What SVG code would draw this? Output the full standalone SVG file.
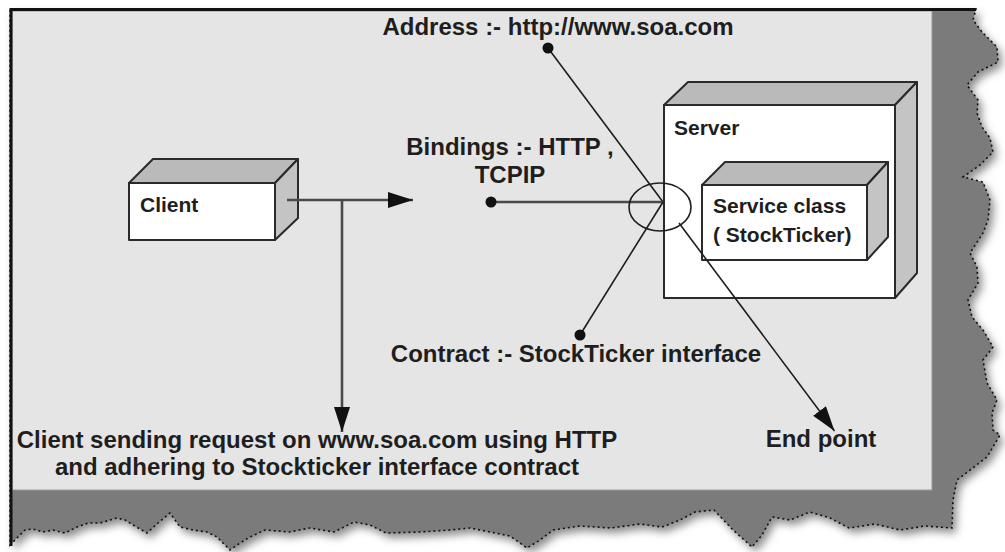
<svg xmlns="http://www.w3.org/2000/svg" width="1005" height="552" viewBox="0 0 1005 552">
  <style>
    .lbl { font-family: "Liberation Sans", Arial, sans-serif; font-weight: bold; fill: #1e1e1e; }
    .node { font-size: 21px; }
    .ann { font-size: 24px; }
    .face { fill: #ffffff; stroke: #2a2a2a; stroke-width: 2; stroke-linejoin: round; }
    .top { fill: #bababa; stroke: #2a2a2a; stroke-width: 2; stroke-linejoin: round; }
    .side { fill: #c4c4c4; stroke: #2a2a2a; stroke-width: 2; stroke-linejoin: round; }
    .thin { stroke: #1e1e1e; stroke-width: 1.6; fill: none; }
    .thick { stroke: #4a4a4a; stroke-width: 2.6; fill: none; }
    .dot { fill: #111; }
  </style>
  <defs>
    <marker id="arrow" markerUnits="userSpaceOnUse" markerWidth="26" markerHeight="18" refX="25" refY="8" orient="auto">
      <path d="M0,0 L25,8 L0,16 Z" fill="#111"/>
    </marker>
    <filter id="blur" x="-10%" y="-10%" width="120%" height="120%">
      <feGaussianBlur stdDeviation="4"/>
    </filter>
    <path id="torn" d="M10,9 L976,9 L973,20 L982,32 L997,47 L998,62 L978,72 L967,85 L978,100 L977,113 L982,127 L990,138 L993,152 L980,165 L963,177 L983,182 L990,200 L988,220 L983,233 L970,253 L977,267 L978,283 L968,300 L972,317 L983,330 L993,347 L983,360 L987,383 L997,400 L992,413 L993,430 L1000,435 L987,457 L970,470 L957,480 L953,500 L952,528 L925,526 L900,530 L875,524 L849,528 L830,518 L810,512 L790,520 L772,517 L762,535 L752,547 L742,538 L733,530 L714,510 L695,512 L680,520 L662,527 L640,524 L611,528 L580,526 L553,530 L540,540 L527,548 L510,536 L495,533 L470,528 L450,530 L420,532 L386,533 L370,525 L354,522 L334,532 L310,528 L289,532 L265,530 L250,537 L240,543 L230,550 L217,537 L207,532 L193,530 L180,527 L170,513 L158,523 L147,533 L133,525 L125,520 L117,518 L110,520 L100,523 L88,523 L77,527 L65,533 L53,530 L43,532 L33,529 L25,530 L10,545 Z"/>
  </defs>

  <rect x="0" y="0" width="1005" height="552" fill="#ffffff"/>

  <!-- torn paper background -->
  <g id="paper">
    <use href="#torn" transform="translate(4,5)" fill="#8c8c8c" filter="url(#blur)"/>
    <use href="#torn" fill="#7b7b7b"/>
    <use href="#torn" fill="none" stroke="#111" stroke-width="1.6" stroke-dasharray="2,3"/>
    <rect x="12" y="11" width="920" height="479" fill="#e5e5e5" stroke="#9a9a9a" stroke-width="1"/>
    <line x1="11" y1="8" x2="11" y2="546" stroke="#111" stroke-width="3"/>
    <line x1="10" y1="9.5" x2="976" y2="9.5" stroke="#111" stroke-width="3"/>
  </g>

  <!-- Client node -->
  <g id="client">
    <polygon class="top" points="129,183 153,159 298,159 275,183"/>
    <polygon class="side" points="275,183 298,159 298,218 275,240"/>
    <rect class="face" x="129" y="183" width="146" height="57"/>
    <text class="lbl node" x="140" y="212">Client</text>
  </g>

  <!-- Server node -->
  <g id="server">
    <polygon class="top" points="664,105 688,82 917,82 895,105"/>
    <polygon class="side" points="895,105 917,82 917,273 895,298"/>
    <rect class="face" x="664" y="105" width="231" height="193"/>
    <text class="lbl node" x="674" y="135">Server</text>
  </g>

  <!-- Service class node -->
  <g id="service">
    <polygon class="top" points="702,185 725,162 888,162 867,185"/>
    <polygon class="side" points="867,185 888,162 888,237 867,260"/>
    <rect class="face" x="702" y="185" width="165" height="75"/>
    <text class="lbl node" x="713" y="213">Service class</text>
    <text class="lbl node" x="713" y="242">( StockTicker)</text>
  </g>

  <!-- Connectors -->
  <g id="connectors">
    <line class="thick" x1="287" y1="200" x2="413" y2="200" marker-end="url(#arrow)"/>
    <line class="thick" x1="342" y1="200" x2="342" y2="432" marker-end="url(#arrow)"/>
    <line class="thin" x1="548" y1="48" x2="663" y2="202"/>
    <line class="thick" x1="491" y1="202" x2="663" y2="202"/>
    <line class="thin" x1="580" y1="335" x2="663" y2="202"/>
    <line class="thin" x1="679" y1="223" x2="834.5" y2="431" marker-end="url(#arrow)"/>
    <ellipse cx="660" cy="207" rx="31" ry="24" fill="none" stroke="#1e1e1e" stroke-width="1.6"/>
    <circle class="dot" cx="548" cy="48" r="5.5"/>
    <circle class="dot" cx="491" cy="202" r="5.5"/>
    <circle class="dot" cx="580" cy="335" r="5.5"/>
  </g>

  <!-- Annotation labels -->
  <g id="labels">
    <text class="lbl ann" x="558" y="35" text-anchor="middle">Address :- http://www.soa.com</text>
    <text class="lbl ann" x="510" y="155" text-anchor="middle">Bindings :- HTTP ,</text>
    <text class="lbl ann" x="510" y="183" text-anchor="middle">TCPIP</text>
    <text class="lbl ann" x="576" y="362" text-anchor="middle">Contract :- StockTicker interface</text>
    <text class="lbl ann" x="821" y="447" text-anchor="middle">End point</text>
    <text class="lbl ann" x="317" y="448" text-anchor="middle">Client sending request on www.soa.com using HTTP</text>
    <text class="lbl ann" x="317" y="475" text-anchor="middle">and adhering to Stockticker interface contract</text>
  </g>
</svg>
